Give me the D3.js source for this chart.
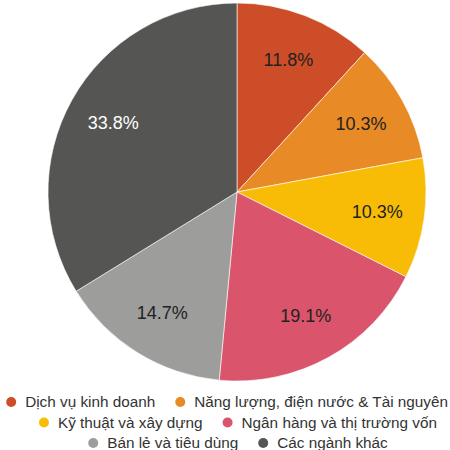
<!DOCTYPE html>
<html>
<head>
<meta charset="utf-8">
<script src="https://cdn.jsdelivr.net/npm/d3@7"></script>
<style>
  body { margin: 0; background: #fff; }
  svg { font-family: "Liberation Sans", Arial, sans-serif; }
</style>
</head>
<body>
<div id="chart"></div>
<script>
// data
var categories = ["Dịch vụ kinh doanh", "Năng lượng, điện nước & Tài nguyên", "Kỹ thuật và xây dựng",
                  "Ngân hàng và thị trường vốn", "Bán lẻ và tiêu dùng", "Các ngành khác"];
var values = [11.8, 10.3, 10.3, 19.1, 14.7, 33.8];
var colors = ["#cd4d28", "#e88a25", "#f8bc06", "#da546b", "#9d9d9c", "#555553"];
var labelColors = ["#222", "#222", "#222", "#222", "#222", "#fff"];

var width = 450, height = 450;
var cx = 237, cy = 192, radius = 189;

var svg = d3.select("#chart").append("svg")
    .attr("width", width)
    .attr("height", height);

var pie = d3.pie().sort(null).value(function (d) { return d; });
var arc = d3.arc().innerRadius(0).outerRadius(radius);
var labelArc = d3.arc().innerRadius(radius * 0.75).outerRadius(radius * 0.75);

var arcs = pie(values);

var g = svg.append("g").attr("transform", "translate(" + cx + "," + cy + ")");

g.selectAll("path")
    .data(arcs)
    .enter()
    .append("path")
    .attr("d", arc)
    .attr("fill", function (d, i) { return colors[i]; })
    .attr("stroke", "#fff")
    .attr("stroke-width", 0.6);

g.selectAll("text")
    .data(arcs)
    .enter()
    .append("text")
    .attr("transform", function (d) { return "translate(" + labelArc.centroid(d) + ")"; })
    .attr("text-anchor", "middle")
    .attr("dy", "0.35em")
    .style("font-size", "18px")
    .attr("fill", function (d, i) { return labelColors[i]; })
    .text(function (d, i) { return values[i].toFixed(1) + "%"; });

/*************** legend ***************/
var legend = svg.append("g");
var fontSize = 15.3, markerR = 5, markerGap = 9, itemGap = 20;

// measure item widths
var items = categories.map(function (c, i) {
    var t = legend.append("text").style("font-size", fontSize + "px").text(c);
    var w = t.node().getComputedTextLength();
    t.remove();
    return { name: c, color: colors[i], w: markerR * 2 + markerGap + w };
});

// greedy wrap into rows
var rows = [], cur = [], curW = 0, maxW = 446;
items.forEach(function (it) {
    var add = cur.length ? itemGap + it.w : it.w;
    if (cur.length && curW + add > maxW) {
        rows.push({ items: cur, w: curW });
        cur = [it]; curW = it.w;
    } else {
        cur.push(it); curW += add;
    }
});
rows.push({ items: cur, w: curW });

var rowY0 = 402, rowStep = 20.5, legendMid = 238;
rows.forEach(function (row, r) {
    var x = Math.max(2, Math.min(legendMid - row.w / 2, 448 - row.w));
    var y = rowY0 + r * rowStep;
    row.items.forEach(function (it) {
        legend.append("circle")
            .attr("cx", x + markerR)
            .attr("cy", y)
            .attr("r", markerR)
            .attr("fill", it.color);
        legend.append("text")
            .attr("x", x + markerR * 2 + markerGap)
            .attr("y", y)
            .attr("dy", "0.35em")
            .style("font-size", fontSize + "px")
            .attr("fill", "#333")
            .text(it.name);
        x += it.w + itemGap;
    });
});
</script>
</body>
</html>
